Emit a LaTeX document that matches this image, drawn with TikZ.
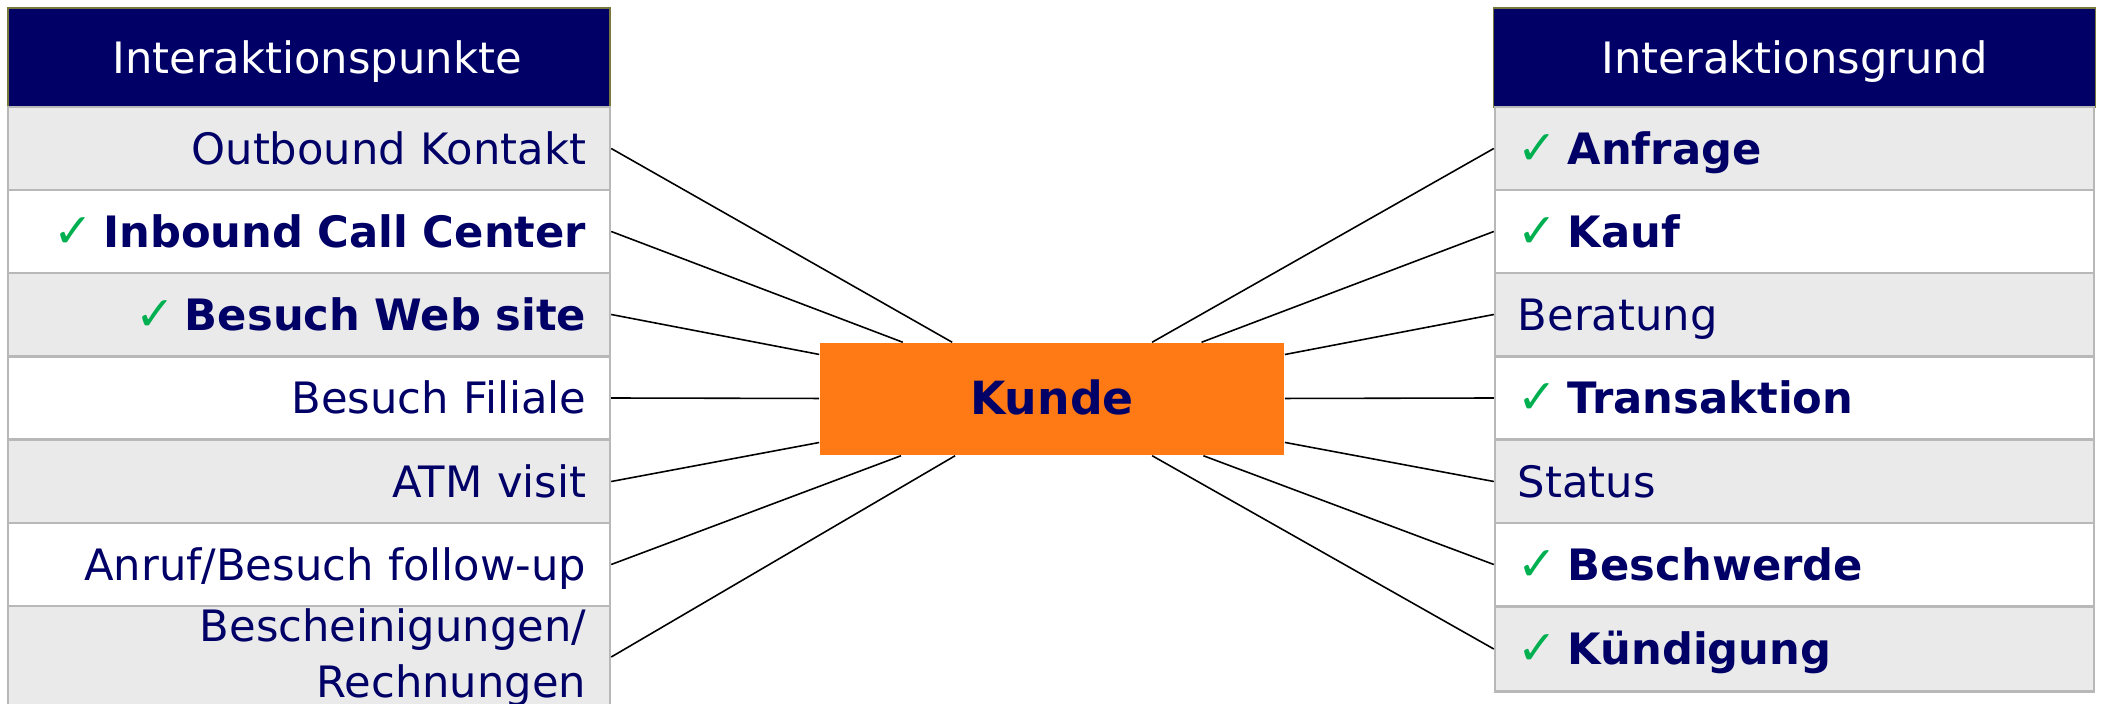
\documentclass[tikz,border=0pt]{standalone}
\usepackage{fontspec}
\setmainfont{DejaVu Sans}

\definecolor{navy}{RGB}{0,0,102}
\definecolor{rowgray}{RGB}{234,234,234}
\definecolor{rowline}{RGB}{184,184,184}
\definecolor{headline}{RGB}{120,120,60}
\definecolor{kundeorange}{RGB}{255,121,21}
\definecolor{okgreen}{RGB}{0,176,80}

\newcommand{\ok}{\textcolor{okgreen}{\fontsize{13.5pt}{16pt}\selectfont ✓}\hspace{0.1cm}}

\begin{document}
\begin{tikzpicture}[x=0.01cm,y=-0.01cm,
  txt/.style={font=\fontsize{12.3pt}{16pt}\selectfont,text height=9pt,text depth=0pt},
  head/.style={txt,draw=headline,line width=0.4pt,fill=navy,text=white,
    minimum width=6.02cm,minimum height=0.99cm,inner sep=0pt},
  lrow/.style={txt,draw=rowline,line width=0.6pt,text=navy,
    text width=5.54cm,align=right,inner xsep=0.24cm,inner ysep=0pt,minimum height=0.83cm},
  rrow/.style={txt,draw=rowline,line width=0.6pt,text=navy,
    text width=5.53cm,align=left,inner xsep=0.23cm,inner ysep=0pt,minimum height=0.83cm},
  grey/.style={fill=rowgray},
  white/.style={fill=white},
  link/.style={draw=black,line width=0.45pt}]

\path[use as bounding box,clip] (0,0) rectangle (2101,704);

% left column
\node[head] (lhead) at (309,57.5) {\hspace*{0.16cm}Interaktionspunkte};
\node[lrow,grey]  (pt1) at (309,148.5) {Outbound Kontakt};
\node[lrow,white] (pt2) at (309,231.5) {\ok\textbf{Inbound Call Center}};
\node[lrow,grey]  (pt3) at (309,314.5) {\ok\textbf{Besuch Web site}};
\node[lrow,white] (pt4) at (309,398)   {Besuch Filiale};
\node[lrow,grey]  (pt5) at (309,481.5) {ATM visit};
\node[lrow,white] (pt6) at (309,564.5) {Anruf/Besuch follow-up};
\node[lrow,grey,minimum height=1.02cm,text height=0.31cm,text depth=0.62cm]
  (pt7) at (309,657) {Bescheinigungen/\\Rechnungen};

% right column
\node[head] (rhead) at (1794.5,57.5) {Interaktionsgrund};
\node[rrow,grey]  (gr1) at (1794.5,148.5) {\ok\textbf{Anfrage}};
\node[rrow,white] (gr2) at (1794.5,231.5) {\ok\textbf{Kauf}};
\node[rrow,grey]  (gr3) at (1794.5,314.5) {Beratung};
\node[rrow,white] (gr4) at (1794.5,398)   {\ok\textbf{Transaktion}};
\node[rrow,grey]  (gr5) at (1794.5,481.5) {Status};
\node[rrow,white] (gr6) at (1794.5,564.5) {\ok\textbf{Beschwerde}};
\node[rrow,grey,minimum height=0.85cm] (gr7) at (1794.5,649) {\ok\textbf{Kündigung}};

% customer in the middle
\node[txt,fill=kundeorange,text=navy,minimum width=4.64cm,minimum height=1.12cm,
  inner sep=0pt,font=\fontsize{13pt}{16pt}\selectfont\bfseries] (kunde) at (1052,399) {Kunde};

\foreach \i in {1,...,7} {
  \draw[link] (pt\i.east) -- (kunde);
  \draw[link] (gr\i.west) -- (kunde);
}

\end{tikzpicture}
\end{document}
